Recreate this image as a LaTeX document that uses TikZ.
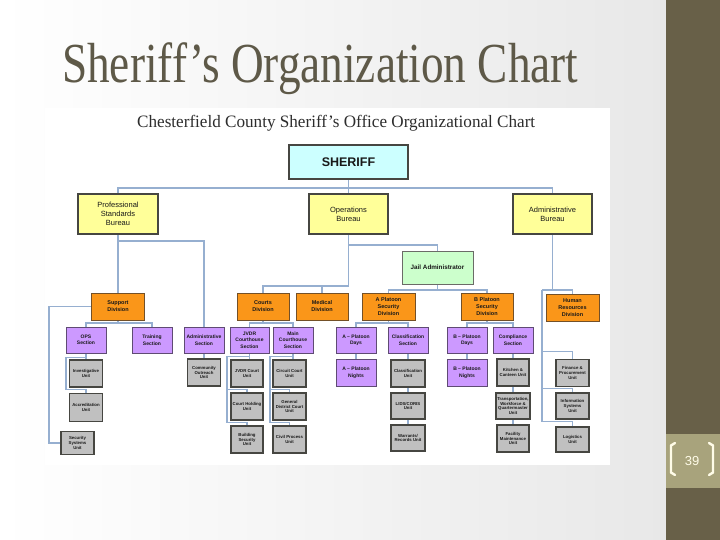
\documentclass[tikz,border=0pt]{standalone}
\usepackage{fontspec}
\setmainfont{Liberation Serif}
\setsansfont{Liberation Sans}
\usepackage{graphicx}
\usetikzlibrary{calc,backgrounds}
\definecolor{bandcol}{RGB}{104,96,72}
\definecolor{pagebox}{RGB}{168,163,124}
\definecolor{cream}{RGB}{255,252,232}
\definecolor{titlecol}{RGB}{94,89,72}
\definecolor{charttitle}{RGB}{45,45,45}
\definecolor{lineblue}{RGB}{150,175,208}
\definecolor{sherfill}{RGB}{204,255,255}
\definecolor{yelfill}{RGB}{255,255,153}
\definecolor{greenfill}{RGB}{204,255,204}
\definecolor{orangefill}{RGB}{250,150,25}
\definecolor{orangeline}{RGB}{115,80,40}
\definecolor{purplefill}{RGB}{204,153,255}
\definecolor{purpleline}{RGB}{95,75,115}
\definecolor{grayfill}{RGB}{192,192,192}
\definecolor{darkline}{RGB}{70,70,65}
\begin{document}
\begin{tikzpicture}[x=1pt,y=-1pt,
  conn/.style={draw=lineblue, line width=1.1pt},
  box/.style={draw, align=center, inner sep=0pt, text=black!90},
  sher/.style={box, fill=sherfill, draw=darkline, line width=1.8pt, minimum width=119pt, minimum height=34pt, font=\sffamily\bfseries\fontsize{12.5}{14}\selectfont},
  bureau/.style={box, fill=yelfill, draw=darkline, line width=1.8pt, minimum width=79pt, minimum height=40pt, font=\sffamily\fontsize{7.5}{9}\selectfont},
  jailst/.style={box, fill=greenfill, draw=darkline!80, line width=1pt, minimum width=71pt, minimum height=33pt, font=\sffamily\bfseries\fontsize{6.3}{7.5}\selectfont},
  div/.style={box, fill=orangefill, draw=orangeline, line width=1pt, minimum width=53pt, minimum height=27pt, font=\sffamily\bfseries\fontsize{5.5}{7}\selectfont},
  sect/.style={box, fill=purplefill, draw=purpleline, line width=1pt, minimum width=40pt, minimum height=26pt, font=\sffamily\bfseries\fontsize{5}{6.5}\selectfont},
  unit/.style={box, fill=grayfill, draw=darkline, line width=1.4pt, minimum width=33pt, minimum height=27pt, font=\sffamily\bfseries\fontsize{4.3}{4.9}\selectfont}
]
\useasboundingbox (0,0) rectangle (720,540);

% ---------- titles ----------
\node[anchor=north west, inner sep=0pt, text=titlecol] (title) at (62,42)
  {\resizebox*{516pt}{52pt}{Sheriff’s Organization Chart}};
\node[anchor=north west, inner sep=0pt, text=charttitle] (ctitle) at (137,115)
  {\resizebox*{398pt}{16pt}{Chesterfield County Sheriff’s Office Organizational Chart}};
\node[text=cream, font=\sffamily\fontsize{13}{13}\selectfont, inner sep=0pt] (pnum) at (692,461) {39};

% ---------- boxes ----------
\node[sher] (sheriff) at (348.5,162) {SHERIFF};
\node[bureau, minimum width=80pt] (psb) at (118,214) {Professional\\Standards\\Bureau};
\node[bureau] (ops) at (348.5,214) {Operations\\Bureau};
\node[bureau] (adm) at (552.5,214) {Administrative\\Bureau};
\node[jailst] (jail) at (437.5,267.5) {Jail Administrator};

\node[div] (support) at (118,306.5) {Support\\Division};
\node[div, minimum width=52pt] (courts) at (263,306.5) {Courts\\Division};
\node[div, minimum width=52pt] (medical) at (322,306.5) {Medical\\Division};
\node[div] (aplat) at (388.5,306.5) {A Platoon\\Security\\Division};
\node[div, minimum width=52pt] (bplat) at (487,306.5) {B Platoon\\Security\\Division};
\node[div] (hr) at (572.5,307.5) {Human\\Resources\\Division};

\node[sect] (opssec) at (86,340) {OPS\\Section};
\node[sect] (training) at (152,340) {Training\\Section};
\node[sect] (admsec) at (204,340) {Administrative\\Section};
\node[sect, minimum width=39pt] (jvdrsec) at (249.5,340) {JVDR\\Courthouse\\Section};
\node[sect] (mainsec) at (293,340) {Main\\Courthouse\\Section};
\node[sect] (adays) at (356,340) {A -- Platoon\\Days};
\node[sect] (classsec) at (408,340) {Classification\\Section};
\node[sect] (bdays) at (467,340) {B -- Platoon\\Days};
\node[sect] (compl) at (513,340) {Compliance\\Section};
\node[sect, minimum height=27pt] (anights) at (356,372.5) {A -- Platoon\\Nights};
\node[sect, minimum height=27pt] (bnights) at (467,372.5) {B -- Platoon\\Nights};

\node[unit] (investig) at (86,373.5) {Investigative\\Unit};
\node[unit, minimum height=28pt] (accred) at (86,407.5) {Accreditation\\Unit};
\node[unit, minimum height=23pt] (secsys) at (77.5,443) {Security\\Systems\\Unit};
\node[unit] (community) at (204,372.5) {Community\\Outreach\\Unit};
\node[unit, minimum width=32pt] (jvdrcourt) at (247,373.5) {JVDR Court\\Unit};
\node[unit, minimum width=32pt] (courthold) at (247,406.5) {Court Holding\\Unit};
\node[unit, minimum width=32pt] (bldgsec) at (247,439.5) {Building\\Security\\Unit};
\node[unit] (circuit) at (289.5,373.5) {Circuit Court\\Unit};
\node[unit] (gendist) at (289.5,406.5) {General\\District Court\\Unit};
\node[unit] (civil) at (289.5,439.5) {Civil Process\\Unit};
\node[unit, minimum width=34pt] (classunit) at (408,373.5) {Classification\\Unit};
\node[unit, minimum width=34pt, minimum height=26pt] (lids) at (408,406) {LIDS/CORIS\\Unit};
\node[unit, minimum width=34pt, minimum height=26pt] (warrants) at (408,438) {Warrants/\\Records Unit};
\node[unit, minimum width=32pt] (kitchen) at (513,372.5) {Kitchen \&\\Canteen Unit};
\node[unit, minimum width=34pt, minimum height=26pt] (transport) at (513,406) {Transportation,\\Workforce \&\\Quartermaster\\Unit};
\node[unit, minimum width=32pt] (facility) at (513,438.5) {Facility\\Maintenance\\Unit};
\node[unit] (finance) at (572.5,373) {Finance \&\\Procurement\\Unit};
\node[unit, minimum height=26pt] (infosys) at (572.5,406) {Information\\Systems\\Unit};
\node[unit, minimum height=25pt] (logistics) at (572.5,439.5) {Logistics\\Unit};

% ---------- background and connectors ----------
\begin{scope}[on background layer]
  \fill[left color=white, right color=black!9] (0,0) rectangle (666,540);
  \fill[bandcol] (666,0) rectangle (720,540);
  \fill[pagebox] (666,434) rectangle (720,488);
  \draw[cream, line width=2.4pt, line cap=round, line join=round]
    (675,443) -- (671,445.5) -- (671,472.5) -- (675,475);
  \draw[cream, line width=2.4pt, line cap=round, line join=round]
    (709,443) -- (713,445.5) -- (713,472.5) -- (709,475);
  \fill[white] (45,108) rectangle (610,465);

  \coordinate (busA) at (0,188);
  \coordinate (busB) at (0,241);
  \coordinate (busC) at (0,323);
  \coordinate (busD) at (0,245);
  \coordinate (busE) at (0,286);
  \coordinate (busF) at (0,290);
  \coordinate (leftx) at (49,0);
  \coordinate (ox) at (66,0);
  \coordinate (jx) at (227,0);
  \coordinate (mx) at (270,0);
  \coordinate (hx) at (542,0);

  % sheriff to bureaus
  \draw[conn] (sheriff.south) -- (ops.north);
  \draw[conn] (psb.north) |- (busA -| adm.north) -- (adm.north);
  % professional standards
  \draw[conn] (psb.south) -- (support.north);
  \draw[conn] (busB -| psb.south) -| (admsec.north);
  \draw[conn] (support.west) -- (support.west -| leftx) |- (secsys.west);
  \draw[conn] (support.south) -- (busC -| support.south);
  \draw[conn] (opssec.north) |- (busC -| training.north) -- (training.north);
  \draw[conn] (opssec.south) -- (investig.north);
  \coordinate (o1) at ($(opssec.south)+(0,4)$);
  \coordinate (o2) at ($(accred.north)+(0,-3.5)$);
  \draw[conn] (o1) -- (o1 -| ox) |- (o2) -- (accred.north);
  \draw[conn] (admsec.south) -- (community.north);
  % operations
  \draw[conn] (ops.south) -- (busD -| ops.south) -| (jail.north);
  \draw[conn] (ops.south) -- (busE -| ops.south) -| (courts.north);
  \draw[conn] (medical.north) -- (busE -| medical.north);
  \draw[conn] (jail.south) -- (busF -| jail.south);
  \draw[conn] (aplat.north) |- (busF -| bplat.north) -- (bplat.north);
  \draw[conn] (courts.south) -- (busC -| courts.south);
  \draw[conn] (jvdrsec.north) |- (busC -| mainsec.north) -- (mainsec.north);
  \draw[conn] (aplat.south) -- (busC -| aplat.south);
  \draw[conn] (adays.north) |- (busC -| classsec.north) -- (classsec.north);
  \draw[conn] (bplat.south) -- (busC -| bplat.south);
  \draw[conn] (bdays.north) |- (busC -| compl.north) -- (compl.north);
  \draw[conn] (adays.south) -- (anights.north);
  \draw[conn] (bdays.south) -- (bnights.north);
  \draw[conn] (classsec.south) -- (classunit.north);
  \draw[conn] (classunit.south) -- (lids.north);
  \draw[conn] (lids.south) -- (warrants.north);
  \draw[conn] (compl.south) -- (kitchen.north);
  \draw[conn] (kitchen.south) -- (transport.north);
  \draw[conn] (transport.south) -- (facility.north);
  % JVDR courthouse
  \draw[conn] (jvdrsec.south) -- (jvdrsec.south |- jvdrcourt.north);
  \coordinate (j1) at ($(jvdrsec.south)+(0,3)$);
  \coordinate (j2) at ($(courthold.north)+(0,-3)$);
  \coordinate (j3) at ($(bldgsec.north)+(0,-3)$);
  \draw[conn] (j1) -- (j1 -| jx) |- (j3) -- (bldgsec.north);
  \draw[conn] (j2 -| jx) -- (j2) -- (courthold.north);
  % Main courthouse
  \draw[conn] (mainsec.south) -- (mainsec.south |- circuit.north);
  \coordinate (m1) at ($(mainsec.south)+(0,3)$);
  \coordinate (m2) at ($(gendist.north)+(0,-3)$);
  \coordinate (m3) at ($(civil.north)+(0,-3)$);
  \draw[conn] (m1) -- (m1 -| mx) |- (m3) -- (civil.north);
  \draw[conn] (m2 -| mx) -- (m2) -- (gendist.north);
  % administrative bureau
  \draw[conn] (adm.south) -- (busF -| adm.south);
  \draw[conn] (busF -| hx) -- (busF -| hr.north) -- (hr.north);
  \coordinate (h1) at ($(finance.north)+(0,-7)$);
  \coordinate (h2) at ($(infosys.north)+(0,-4)$);
  \coordinate (h3) at ($(logistics.north)+(0,-5)$);
  \draw[conn] (busF -| hx) |- (h3) -- (logistics.north);
  \draw[conn] (h1 -| hx) -- (h1) -- (finance.north);
  \draw[conn] (h2 -| hx) -- (h2) -- (infosys.north);
\end{scope}
\end{tikzpicture}
\end{document}
